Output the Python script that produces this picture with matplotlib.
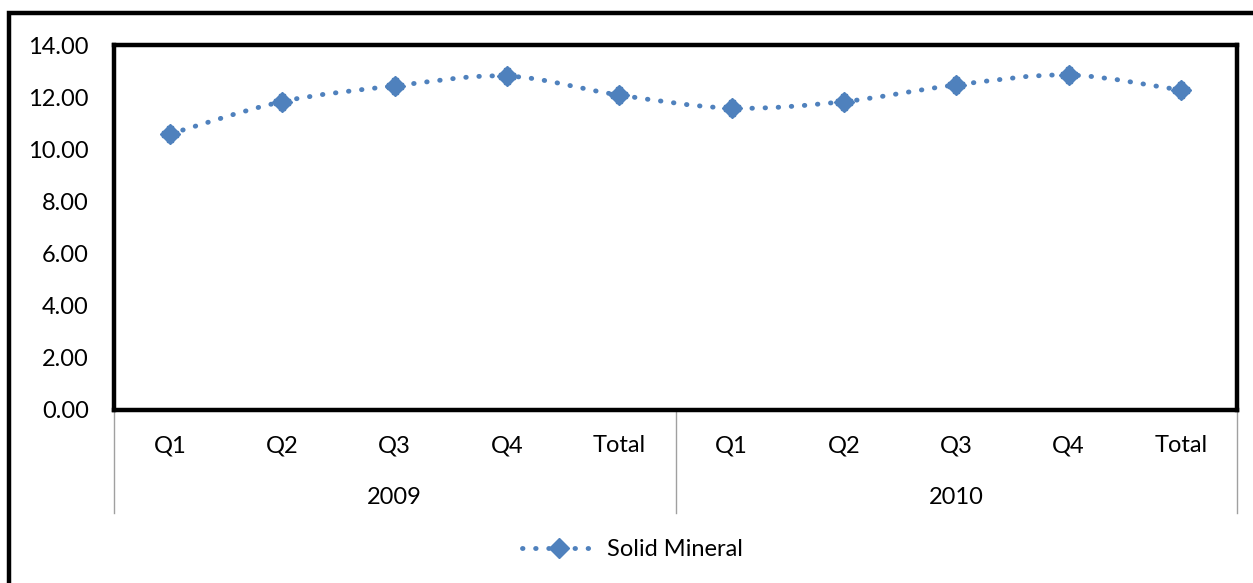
import numpy as np
import matplotlib.pyplot as plt
from matplotlib.path import Path
from matplotlib.patches import PathPatch, Rectangle
from matplotlib.lines import Line2D

plt.rcParams['font.family'] = ['Lato', 'DejaVu Sans']

quarters = ['Q1', 'Q2', 'Q3', 'Q4', 'Total', 'Q1', 'Q2', 'Q3', 'Q4', 'Total']
years = ['2009', '2010']
solid_mineral = [10.59, 11.83, 12.43, 12.81, 12.08, 11.58, 11.83, 12.47, 12.85, 12.27]

blue = '#4F81BD'
dots = (0, (0.1, 2.6))

fig = plt.figure(figsize=(12.53, 5.83), dpi=100)
ax = fig.add_axes([114 / 1253, 1 - 410 / 583, (1237 - 114) / 1253, (410 - 45) / 583])

x = np.arange(len(solid_mineral))
y = np.array(solid_mineral)

# smoothed line (catmull-rom style bezier through the points)
verts = [(x[0], y[0])]
codes = [Path.MOVETO]
for i in range(len(x) - 1):
    p0 = np.array([x[max(i - 1, 0)], y[max(i - 1, 0)]])
    p1 = np.array([x[i], y[i]])
    p2 = np.array([x[i + 1], y[i + 1]])
    p3 = np.array([x[min(i + 2, len(x) - 1)], y[min(i + 2, len(x) - 1)]])
    c1 = p1 + (p2 - p0) / 6
    c2 = p2 - (p3 - p1) / 6
    verts += [tuple(c1), tuple(c2), tuple(p2)]
    codes += [Path.CURVE4] * 3
ax.add_patch(PathPatch(Path(verts, codes), fill=False, edgecolor=blue,
                       linewidth=3.5, linestyle=dots, capstyle='round'))
ax.plot(x, y, linestyle='none', marker='D', markersize=10, color=blue)
ax.plot(x, y, linestyle='none', marker='P', markersize=11, color=blue)

ax.set_xlim(-0.5, 9.5)
ax.set_ylim(0, 14)
ax.set_yticks(np.arange(0, 15, 2))
ax.set_yticklabels(['%.2f' % v for v in np.arange(0, 15, 2)], fontsize=17)
ax.tick_params(axis='y', length=0, pad=18)
ax.set_xticks(x)
ax.set_xticklabels(quarters, fontsize=17)
ax.tick_params(axis='x', length=0, pad=18)

for s in ax.spines.values():
    s.set_linewidth(3.2)
    s.set_color('black')

# group separators and year labels
trans = ax.get_xaxis_transform()
axh = 365
for xs in [-0.5, 4.5, 9.5]:
    ax.plot([xs, xs], [0, -103 / axh], transform=trans, color='#A0A0A0',
            linewidth=1, clip_on=False)
for i, yr in enumerate(years):
    ax.text(2 + 5 * i, -87 / axh, yr, transform=trans, ha='center',
            va='center', fontsize=17)

# legend
h = Line2D([], [], color=blue, linewidth=3.5, linestyle=dots,
           dash_capstyle='round', marker='D', markersize=10)
fig.legend(handles=[h], labels=['Solid Mineral'], loc='center',
           bbox_to_anchor=(632 / 1253, 1 - 550 / 583), frameon=False,
           fontsize=17, handlelength=3.2, handletextpad=0.4)

# outer chart border
fig.patches.append(Rectangle((9 / 1253, -0.1), 1.2, 1 - 13 / 583 + 0.1,
                             transform=fig.transFigure, fill=False,
                             edgecolor='black', linewidth=3.2))

fig.savefig('out.png', dpi=100)
